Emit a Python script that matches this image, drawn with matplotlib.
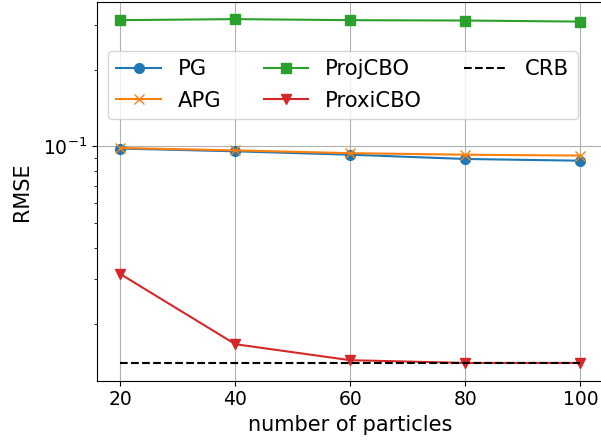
import numpy as np
import matplotlib
matplotlib.use('Agg')
import matplotlib.pyplot as plt

particles = [20, 40, 60, 80, 100]
pg = [0.0980, 0.0956, 0.0927, 0.0892, 0.0878]
apg = [0.0985, 0.0964, 0.0940, 0.0927, 0.0920]
projcbo = [0.313, 0.316, 0.313, 0.312, 0.309]
proxicbo = [0.0315, 0.0167, 0.01445, 0.0141, 0.0141]
crb = [0.01403, 0.01403, 0.01403, 0.01403, 0.01403]

fig = plt.figure(figsize=(6.01, 4.42), dpi=100)
ax = fig.add_axes([0.162, 0.1387, 0.842, 0.857])

ax.plot(particles, pg, marker='o', markersize=7, label='PG')
ax.plot(particles, apg, marker='x', markersize=7, label='APG')
ax.plot(particles, projcbo, marker='s', markersize=7, label='ProjCBO')
ax.plot(particles, proxicbo, marker='v', markersize=7, label='ProxiCBO')
ax.plot(particles, crb, 'k--', label='CRB')

ax.set_yscale('log')
ax.set_xticks([20, 40, 60, 80, 100])
ax.tick_params(axis='both', labelsize=13.5)
ax.grid(True)
ax.set_xlabel('number of particles', fontsize=15)
ax.set_ylabel('RMSE', fontsize=15, labelpad=8)
ax.legend(ncol=3, loc='upper left', bbox_to_anchor=(0.021, 0.871), borderaxespad=0,
          fontsize=15.2, handlelength=2.1, labelspacing=0.55)

fig.savefig('out.png', dpi=100)
